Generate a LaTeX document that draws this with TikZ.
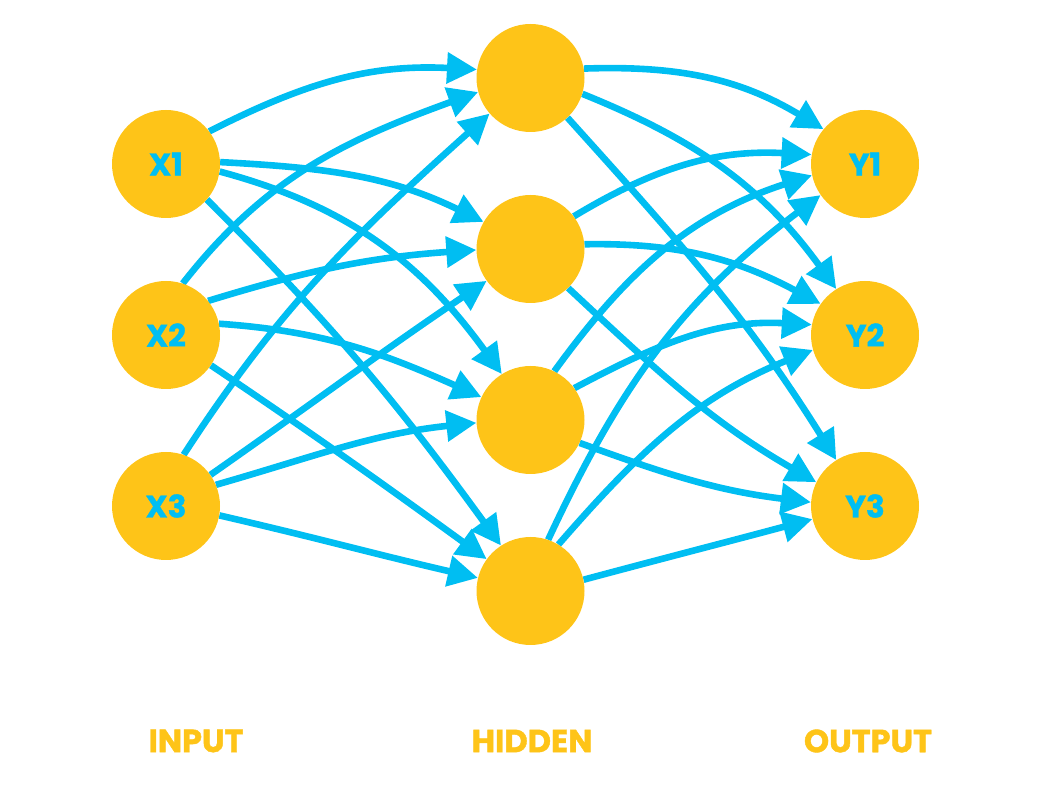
\documentclass[tikz,border=0pt]{standalone}
\usepackage{fontspec}
\setmainfont{Poppins}[BoldFeatures={FakeBold=1.3}]
\usetikzlibrary{arrows.meta,backgrounds}
\definecolor{nodeyellow}{RGB}{254,196,24}
\definecolor{edgeblue}{RGB}{0,190,242}
\begin{document}
\begin{tikzpicture}[x=1pt,y=1pt,
  neuron/.style={circle,fill=nodeyellow,minimum size=108pt,inner sep=0pt,
    text=edgeblue,font=\bfseries\fontsize{31}{31}\selectfont},
  layerlabel/.style={text=nodeyellow,font=\bfseries\fontsize{32}{32}\selectfont,inner sep=0pt},
  conn/.style={draw=edgeblue,line width=6.6pt,-{Triangle[length=30pt,width=30pt]}}]
\useasboundingbox (0,0) rectangle (1044,798);
% input layer
\node[neuron] (X1) at (166,634) {X1};
\node[neuron] (X2) at (166,463) {X2};
\node[neuron] (X3) at (166,292) {X3};
% hidden layer
\node[neuron] (H1) at (530.5,720) {};
\node[neuron] (H2) at (530.5,549) {};
\node[neuron] (H3) at (530.5,378) {};
\node[neuron] (H4) at (530.5,207) {};
% output layer
\node[neuron] (Y1) at (865,634) {Y1};
\node[neuron] (Y2) at (865,463) {Y2};
\node[neuron] (Y3) at (865,292) {Y3};
% labels
\node[layerlabel] (LI) at (196,57) {INPUT};
\node[layerlabel] (LH) at (532,57) {HIDDEN};
\node[layerlabel] (LO) at (868,57) {OUTPUT};
\begin{scope}[on background layer]
% input -> hidden
\draw[conn] (X1.37)  to[out=27,in=177]  (H1.171);
\draw[conn] (X1.2)   to[out=-3,in=154]  (H2.150);
\draw[conn] (X1.-8)  to[out=-15,in=126] (H3.122);
\draw[conn] (X1.-41) to[out=-45,in=126] (H4.123);
\draw[conn] (X2.72)  to[out=52,in=200]  (H1.195);
\draw[conn] (X2.39)  to[out=17,in=184]  (H2.181);
\draw[conn] (X2.12)  to[out=-4,in=156]  (H3.155);
\draw[conn] (X2.-34) to[out=-34,in=144] (H4.144);
\draw[conn] (X3.71)  to[out=57,in=222]  (H1.221);
\draw[conn] (X3.35)  to[out=35,in=214]  (H2.216);
\draw[conn] (X3.23)  to[out=16,in=186]  (H3.183);
\draw[conn] (X3.-10) to[out=-13,in=167] (H4.166);
% hidden -> output
\draw[conn] (H1.10)  to[out=2,in=149]   (Y1.140);
\draw[conn] (H1.-17) to[out=-22,in=126] (Y2.122);
\draw[conn] (H1.-47) to[out=-48,in=122] (Y3.122);
\draw[conn] (H2.37)  to[out=31,in=177]  (Y1.170);
\draw[conn] (H2.5)   to[out=1,in=152]   (Y2.145);
\draw[conn] (H2.-46) to[out=-43,in=150] (Y3.154);
\draw[conn] (H3.64)  to[out=54,in=198]  (Y1.192);
\draw[conn] (H3.36)  to[out=28,in=177]  (Y2.169);
\draw[conn] (H3.-25) to[out=-20,in=173] (Y3.176);
\draw[conn] (H4.71)  to[out=65,in=217]  (Y1.215);
\draw[conn] (H4.59)  to[out=49,in=202]  (Y2.196);
\draw[conn] (H4.12)  to[out=15,in=195]  (Y3.194);
\end{scope}
\end{tikzpicture}
\end{document}
